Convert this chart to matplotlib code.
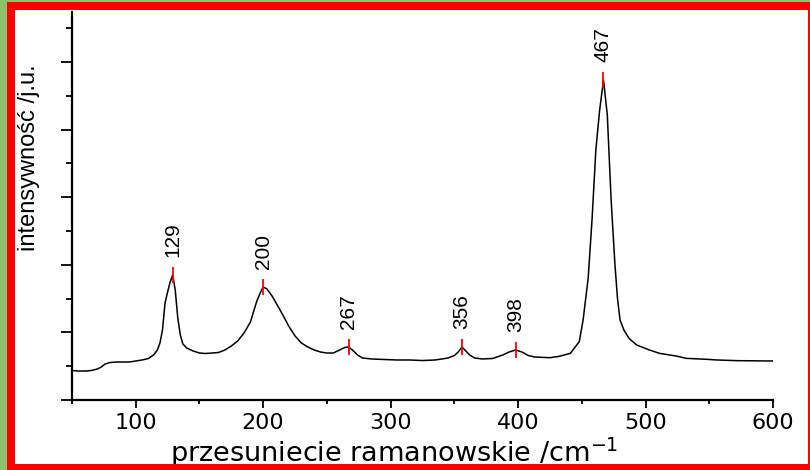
import matplotlib
matplotlib.use("Agg")
import matplotlib.pyplot as plt
from matplotlib.patches import Rectangle
from matplotlib.ticker import MultipleLocator

# Raman spectrum: shift (cm-1) and intensity (a.u.)
shift = [50, 55, 61, 65, 70, 73, 76, 80, 85, 90, 95, 100, 105, 110, 114, 117,
         119, 121, 123, 125, 127, 129, 131, 133, 135, 137, 140, 145, 150, 155,
         160, 165, 170, 175, 180, 185, 190, 195, 198, 200, 203, 207, 211, 215,
         220, 225, 230, 235, 240, 245, 250, 255, 260, 264, 267, 270, 274, 278,
         285, 295, 305, 315, 325, 335, 345, 350, 353, 356, 359, 362, 366, 372,
         380, 388, 393, 398, 403, 408, 413, 420, 425, 432, 441, 448, 451, 455,
         458, 461, 464, 467, 470, 473, 476, 478, 480, 483, 487, 493, 503, 511,
         524, 532, 548, 556, 572, 600]
intensity = [436, 429, 429, 436, 459, 488, 533, 555, 562, 562, 562, 577, 592,
             614, 666, 740, 843, 1036, 1435, 1598, 1746, 1849, 1627, 1213, 962,
             828, 769, 725, 695, 688, 695, 703, 740, 799, 873, 991, 1154, 1464,
             1598, 1672, 1642, 1538, 1405, 1272, 1095, 947, 843, 784, 740, 710,
             695, 695, 740, 777, 784, 740, 666, 621, 607, 599, 592, 592, 584,
             592, 621, 658, 710, 784, 725, 666, 621, 607, 614, 666, 710, 740,
             710, 658, 636, 630, 626, 645, 690, 863, 1183, 1805, 2663, 3698,
             4290, 4734, 4216, 2959, 2000, 1500, 1183, 1036, 912, 814, 740, 690,
             651, 616, 602, 592, 582, 577]

# labelled band positions
peaks = [129, 200, 267, 356, 398, 467]

W, H = 810, 470
fig = plt.figure(figsize=(W / 100, H / 100), dpi=100, facecolor="#8dc26b")

def fx(px):
    return px / W

def fy(py):
    return 1 - py / H

# red frame with white inside
fig.patches.append(Rectangle((fx(7), 0), 1 - fx(7), fy(2), transform=fig.transFigure,
                             facecolor="#ff0000", edgecolor="none", zorder=-3))
fig.patches.append(Rectangle((fx(15), fy(464)), fx(808) - fx(15), fy(10) - fy(464),
                             transform=fig.transFigure, facecolor="white",
                             edgecolor="none", zorder=-2))
# bottom band of the frame overlaps the axis title
fig.patches.append(Rectangle((fx(7), 0), 1 - fx(7), fy(464), transform=fig.transFigure,
                             facecolor="#ff0000", edgecolor="none", zorder=10))

ax = fig.add_axes([fx(72), fy(400), fx(773) - fx(72), fy(12) - fy(400)])
ax.set_facecolor("none")
ax.plot(shift, intensity, color="black", lw=1.1)

ax.set_xlim(50, 600)
ax.set_ylim(0, 5740)
ax.xaxis.set_major_locator(MultipleLocator(100))
ax.xaxis.set_minor_locator(MultipleLocator(50))
ax.yaxis.set_major_locator(MultipleLocator(1000))
ax.yaxis.set_minor_locator(MultipleLocator(500))
ax.set_yticklabels([])
ax.tick_params(axis="both", which="both", direction="out", width=1.3, color="black")
ax.tick_params(axis="y", which="major", length=8)
ax.tick_params(axis="y", which="minor", length=4)
ax.tick_params(axis="x", which="major", length=5.5, pad=4, labelsize=16)
ax.tick_params(axis="x", which="minor", length=3)
for lab in ax.get_xticklabels():
    lab.set_family("DejaVu Sans")

for side in ["top", "right"]:
    ax.spines[side].set_visible(False)
for side in ["left", "bottom"]:
    ax.spines[side].set_linewidth(1.6)

for p in peaks:
    v = intensity[shift.index(p)]
    ax.plot([p], [v], marker="|", color="red", markersize=11.5, mew=1.3)
    ax.annotate(str(p), (p, v), xytext=(0, 13), textcoords="offset points",
                rotation=90, ha="center", va="bottom", fontsize=15,
                family="Liberation Sans")

fig.text(fx(29), fy(158), "intensywność /j.u.", rotation=90, ha="center",
         va="center", fontsize=17, family="Liberation Sans")
fig.text(fx(394), fy(462), r"przesuniecie ramanowskie /cm$^{-1}$", ha="center",
         va="baseline", fontsize=19.5, family="DejaVu Sans")

fig.savefig("out.png", dpi=100, facecolor=fig.get_facecolor())
